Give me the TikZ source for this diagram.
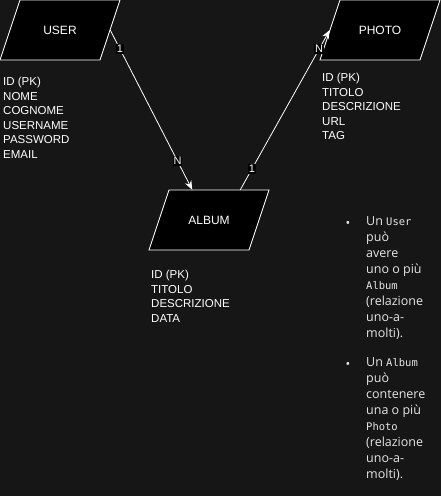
\documentclass[tikz,border=0pt]{standalone}
\usepackage{fontspec}
\setmainfont{Liberation Sans}
\newfontfamily\notefont{Open Sans}
\setmonofont{DejaVu Sans Mono}
\usetikzlibrary{calc,arrows.meta,positioning}
\definecolor{bgdark}{HTML}{161616}
\definecolor{notegray}{HTML}{E6E6E6}
\newcommand{\mkcode}[1]{{\ttfamily\fontsize{10.5}{16}\selectfont #1}}
\newcommand{\mkentity}[3]{\path[entityshape] ($(#2)+(-40,-30)$) -- ($(#2)+(60,-30)$) -- ($(#2)+(40,30)$) -- ($(#2)+(-60,30)$) -- cycle; \node[entity] (#1) at (#2) {#3};}

\begin{document}
\begin{tikzpicture}[x=1pt,y=-1pt,
    entityshape/.style={draw=white,fill=black,line width=0.8pt,line join=miter},
    entity/.style={minimum width=100pt,minimum height=60pt,inner sep=0pt,text=white,
      font=\fontsize{12}{14}\selectfont},
    attr/.style={anchor=north west,align=left,inner sep=0pt,text=white,
      font=\fontsize{11.5}{14.6}\selectfont},
    rel/.style={draw=white,line width=0.8pt,-{Stealth[length=9pt,width=7pt]}},
    card/.style={fill=black,text=white,inner sep=1pt,font=\fontsize{11}{12}\selectfont},
    note/.style={anchor=north west,align=left,inner sep=0pt,text=notegray,
      font=\notefont\fontsize{12.5}{16}\selectfont},
    dot/.style={text=notegray,inner sep=0pt,font=\notefont\fontsize{12.5}{16}\selectfont}
    ]
    \fill[bgdark] (0,0) rectangle (441,496);
    \useasboundingbox (0,0) rectangle (441,496);

    % entities
    \mkentity{user}{60,30}{USER}
    \mkentity{photo}{380,30}{PHOTO}
    \mkentity{album}{209,220}{ALBUM}

    % attributes
    \node[attr] (userattr) at (3,77) {ID (PK)\\NOME\\COGNOME\\USERNAME\\PASSWORD\\EMAIL};
    \node[attr] (photoattr) at (322,73) {ID (PK)\\TITOLO\\DESCRIZIONE\\URL\\TAG};
    \node[attr] (albumattr) at (151,270) {ID (PK)\\TITOLO\\DESCRIZIONE\\DATA};

    % relations
    \draw[rel] (user.east) -- node[card,pos=.12]{1} node[card,pos=.82]{N} (album.119.5);
    \draw[rel] (album.44) -- node[card,pos=.13]{1} node[card,pos=.88]{N} (photo.west);

    % notes
    \node[note] (note1) at (366,216) {Un \mkcode{User}\\può\\avere\\uno o più\\\mkcode{Album}\\(relazione\\uno-a-\\molti).};
    \node[dot] (dot1) at (348,224) {•};
    \node[note] (note2) at (366,357) {Un \mkcode{Album}\\può\\contenere\\una o più\\\mkcode{Photo}\\(relazione\\uno-a-\\molti).};
    \node[dot] (dot2) at (348,365) {•};
  \end{tikzpicture}
\end{document}
